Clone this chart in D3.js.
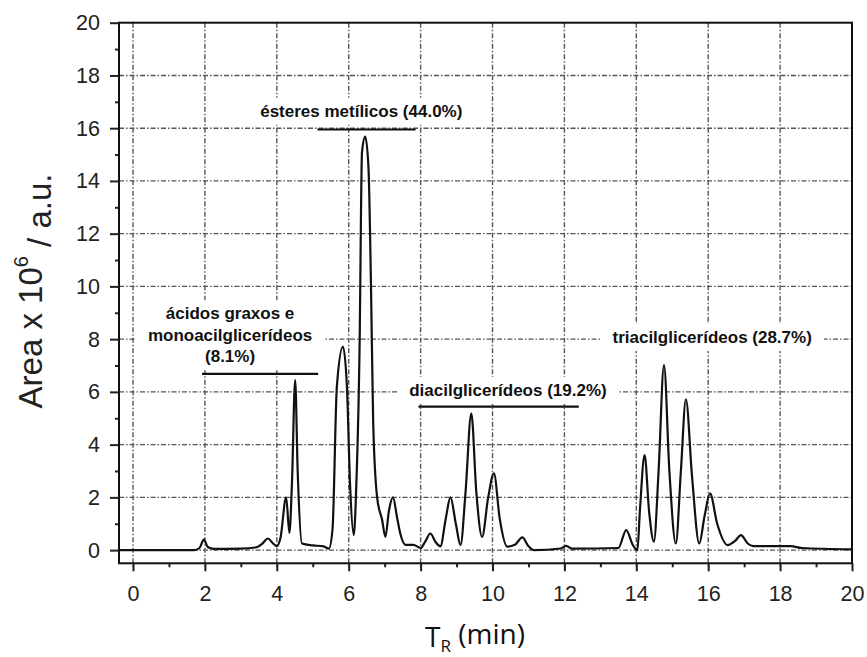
<!DOCTYPE html>
<html>
<head>
<meta charset="utf-8">
<script src="https://cdn.jsdelivr.net/npm/d3@7"></script>
<style>
  body { margin: 0; background: #fff; }
  .tick text { font-family: "Liberation Sans", Arial, sans-serif; }
</style>
</head>
<body>
<div id="chart"></div>
<script>
// retention time (min) and area (x 10^6 a.u.)
var rtMin = [-0.36, 1.7, 1.85, 1.97, 2.08, 2.25, 3.0, 3.4, 3.6, 3.75, 3.9, 4.0, 4.1, 4.26, 4.35, 4.42, 4.51, 4.58, 4.7, 5.0,
  5.3, 5.45, 5.55, 5.67, 5.84, 5.95, 6.04, 6.14, 6.21, 6.30, 6.37, 6.46, 6.55, 6.62, 6.68, 6.79, 6.93, 7.02, 7.12, 7.23,
  7.35, 7.44, 7.58, 7.8, 8.0, 8.12, 8.27, 8.42, 8.55, 8.7, 8.83, 8.98, 9.11, 9.25, 9.41, 9.55, 9.71, 9.88, 10.04, 10.2,
  10.41, 10.62, 10.83, 11.0, 11.15, 11.9, 12.05, 12.2, 13.5, 13.72, 13.9, 14.03, 14.1, 14.23, 14.36, 14.49, 14.62, 14.77, 14.92, 15.10,
  15.24, 15.38, 15.55, 15.75, 15.9, 16.05, 16.25, 16.54, 16.75, 16.91, 17.1, 17.25, 18.3, 18.6, 20.0];
var areaAu = [0.0, 0.0, 0.08, 0.4, 0.12, 0.05, 0.06, 0.1, 0.25, 0.44, 0.25, 0.15, 0.45, 2.0, 0.65, 2.5, 6.45, 3.0, 0.25, 0.18,
  0.14, 0.06, 0.8, 6.2, 7.72, 6.2, 2.4, 0.57, 2.4, 7.5, 15.1, 15.68, 14.5, 10.0, 4.9, 2.0, 1.14, 0.5, 1.5, 2.0,
  1.2, 0.6, 0.2, 0.2, 0.08, 0.3, 0.63, 0.3, 0.14, 1.2, 2.0, 1.0, 0.19, 2.2, 5.19, 2.2, 0.5, 2.0, 2.91, 1.2,
  0.13, 0.2, 0.48, 0.15, 0.0, 0.06, 0.16, 0.06, 0.08, 0.76, 0.2, 0.0, 1.5, 3.6, 1.4, 0.32, 3.0, 7.02, 3.0, 0.25,
  3.0, 5.72, 2.8, 0.25, 1.3, 2.15, 1.0, 0.19, 0.35, 0.57, 0.25, 0.15, 0.15, 0.08, 0.03];

var xTicks = [0, 2, 4, 6, 8, 10, 12, 14, 16, 18, 20];
var yTicks = [0, 2, 4, 6, 8, 10, 12, 14, 16, 18, 20];

// group labels: text lines, centre (min, area), underline span
var groupLines = [["ácidos graxos e", "monoacilglicerídeos", "(8.1%)"], ["ésteres metílicos (44.0%)"],
  ["diacilglicerídeos (19.2%)"], ["triacilglicerídeos (28.7%)"]];
var groupX = [2.70, 6.35, 10.43, 16.11];
var groupY = [8.98, 16.66, 6.07, 8.08];
var barFrom = [1.92, 5.13, 7.94, null];
var barTo = [5.15, 7.86, 12.4, null];
var barAt = [6.68, 15.95, 5.44, null];

var svgWidth = 867;
var svgHeight = 657;
var margin = { top: 22.7, right: 15, bottom: 93.7, left: 119 };
var width = svgWidth - margin.left - margin.right;
var height = svgHeight - margin.top - margin.bottom;

var svg = d3.select("#chart")
  .append("svg")
  .attr("width", svgWidth)
  .attr("height", svgHeight);

var chartGroup = svg.append("g")
  .attr("transform", `translate(${margin.left}, ${margin.top})`);

var x = d3.scaleLinear().domain([-0.39, 20]).range([0, width]);
var y = d3.scaleLinear().domain([-0.5, 20]).range([height, 0]);

// grid
var gridStyle = { stroke: "#555", width: 1.4, dash: "5,2,1.5,2" };
chartGroup.append("g")
  .selectAll("line")
  .data(xTicks.slice(0, -1))
  .enter()
  .append("line")
  .attr("x1", d => x(d)).attr("x2", d => x(d))
  .attr("y1", 0).attr("y2", height + 6)
  .attr("stroke", gridStyle.stroke)
  .attr("stroke-width", gridStyle.width)
  .attr("stroke-dasharray", gridStyle.dash);

chartGroup.append("g")
  .selectAll("line")
  .data(yTicks.slice(0, -1))
  .enter()
  .append("line")
  .attr("x1", 0).attr("x2", width)
  .attr("y1", d => y(d)).attr("y2", d => y(d))
  .attr("stroke", gridStyle.stroke)
  .attr("stroke-width", gridStyle.width)
  .attr("stroke-dasharray", gridStyle.dash);

// label backgrounds hide the grid behind the text
var boxes = chartGroup.append("g");

// chromatogram trace
var points = rtMin.map((t, i) => [t, areaAu[i]]);
var line = d3.line()
  .x(d => x(d[0]))
  .y(d => y(d[1]))
  .curve(d3.curveMonotoneX);

chartGroup.append("path")
  .datum(points)
  .attr("d", line)
  .attr("fill", "none")
  .attr("stroke", "#111")
  .attr("stroke-width", 2.2)
  .attr("stroke-linejoin", "round");

// axes
chartGroup.append("g")
  .attr("transform", `translate(0, ${height})`)
  .call(d3.axisBottom(x).tickValues(xTicks).tickSize(8).tickPadding(14));
chartGroup.append("g")
  .attr("transform", `translate(0, ${height})`)
  .call(d3.axisBottom(x).tickValues(d3.range(1, 20, 2)).tickSize(4).tickFormat(""));

chartGroup.append("g")
  .call(d3.axisLeft(y).tickValues(yTicks).tickSize(9).tickPadding(10));
chartGroup.append("g")
  .call(d3.axisLeft(y).tickValues(d3.range(1, 20, 2)).tickSize(4).tickFormat(""));

chartGroup.selectAll(".domain").remove();
chartGroup.selectAll(".tick line").attr("stroke", "#222").attr("stroke-width", 2);
chartGroup.selectAll(".tick text")
  .attr("fill", "#222")
  .style("font-size", "21.5px");

chartGroup.append("rect")
  .attr("x", 0).attr("y", 0)
  .attr("width", width).attr("height", height)
  .attr("fill", "none")
  .attr("stroke", "#111")
  .attr("stroke-width", 2);

// group annotations
groupLines.forEach(function (lines, i) {
  var lh = 21.5;
  var txt = chartGroup.append("text")
    .attr("text-anchor", "middle")
    .style("font-family", "'Liberation Sans', Arial, sans-serif")
    .style("font-weight", "bold")
    .style("font-size", "17px")
    .attr("fill", "#111");
  lines.forEach(function (s, j) {
    txt.append("tspan")
      .attr("x", x(groupX[i]))
      .attr("y", y(groupY[i]) + j * lh)
      .attr("dy", "0.35em")
      .text(s);
  });
  var bb = txt.node().getBBox();
  boxes.append("rect")
    .attr("x", bb.x - 12).attr("y", bb.y - 4)
    .attr("width", bb.width + 24).attr("height", bb.height + 8)
    .attr("fill", "#fff");
  if (barFrom[i] !== null) {
    chartGroup.append("line")
      .attr("x1", x(barFrom[i])).attr("x2", x(barTo[i]))
      .attr("y1", y(barAt[i])).attr("y2", y(barAt[i]))
      .attr("stroke", "#111")
      .attr("stroke-width", 2.2);
  }
});

// axis titles
var yTitle = svg.append("text")
  .attr("transform", "translate(42, 291) rotate(-90)")
  .attr("text-anchor", "middle")
  .style("font-family", "'Liberation Sans', Arial, sans-serif")
  .style("font-size", "33px")
  .attr("fill", "#222");
yTitle.append("tspan").text("Area x 10");
yTitle.append("tspan").attr("dy", "-0.7em").style("font-size", "20px").text("6");
yTitle.append("tspan").attr("dy", "0.7em").text(" / a.u.");

var xTitle = svg.append("text")
  .attr("x", 475)
  .attr("y", 647)
  .attr("text-anchor", "middle")
  .style("font-family", "'Open Sans', sans-serif")
  .style("font-size", "28px")
  .attr("fill", "#111");
xTitle.append("tspan").text("T");
xTitle.append("tspan").attr("dy", "0.3em").style("font-size", "17px").text("R");
xTitle.append("tspan").attr("dy", "-0.3em").text(" (min)");
</script>
</body>
</html>
